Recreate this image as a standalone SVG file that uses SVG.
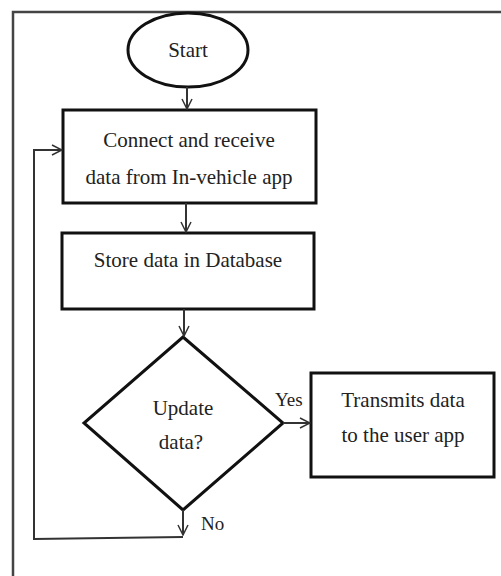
<svg xmlns="http://www.w3.org/2000/svg" width="501" height="576" viewBox="0 0 501 576">
<defs>
<marker id="arr" viewBox="0 0 12 12" refX="11" refY="6" markerWidth="12" markerHeight="12" markerUnits="userSpaceOnUse" orient="auto">
<path d="M1,1 L11,6 L1,11" fill="none" stroke="#333" stroke-width="1.5"/>
</marker>
<style>
.shape{fill:#fff;stroke:#111;stroke-width:3}
.t{font-family:"Liberation Serif","Times New Roman",serif;font-size:21px;fill:#222;text-anchor:middle}
.lbl{font-family:"Liberation Serif","Times New Roman",serif;font-size:19px;fill:#222}
.c{fill:none;stroke:#333;stroke-width:2}
</style>
</defs>
<rect x="0" y="0" width="501" height="576" fill="#fff"/>
<path d="M13,580 L13,12 L505,12" fill="none" stroke="#444" stroke-width="2.5"/>
<g id="start">
<ellipse class="shape" cx="188" cy="50" rx="60" ry="37"/>
<text class="t" x="188" y="57">Start</text>
</g>
<g id="connect">
<rect class="shape" x="63" y="110" width="253" height="93"/>
<text class="t" x="189" y="147">Connect and receive</text>
<text class="t" x="189" y="184">data from In-vehicle app</text>
</g>
<g id="store">
<rect class="shape" x="62" y="233" width="252" height="76"/>
<text class="t" x="188" y="267">Store data in Database</text>
</g>
<g id="decision">
<polygon class="shape" points="183,337 283,423 183,510 84,423"/>
<text class="t" x="183" y="415">Update</text>
<text class="t" x="181" y="449">data?</text>
</g>
<g id="transmit">
<rect class="shape" x="311" y="373" width="183" height="104"/>
<text class="t" x="403" y="407">Transmits data</text>
<text class="t" x="403" y="442">to the user app</text>
</g>
<g id="connectors">
<line class="c" x1="187" y1="87" x2="187" y2="109" marker-end="url(#arr)"/>
<line class="c" x1="186" y1="203" x2="186" y2="232" marker-end="url(#arr)"/>
<line class="c" x1="184" y1="309" x2="184" y2="336" marker-end="url(#arr)"/>
<line class="c" x1="283" y1="423" x2="310" y2="423" marker-end="url(#arr)"/>
<line class="c" x1="183" y1="510" x2="183" y2="535" marker-end="url(#arr)"/>
<polyline class="c" points="183,537 34,539 34,150 62,150" marker-end="url(#arr)"/>
<text class="lbl" x="275" y="406">Yes</text>
<text class="lbl" x="201" y="530">No</text>
</g>
</svg>
